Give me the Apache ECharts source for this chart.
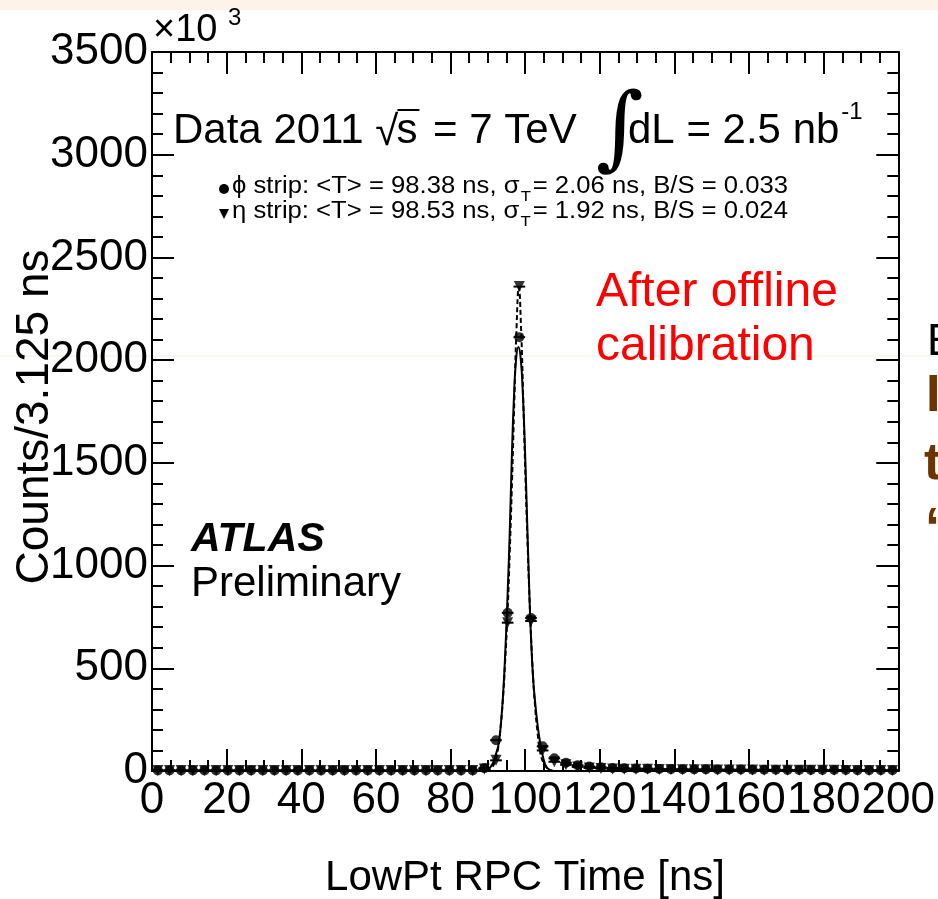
<!DOCTYPE html>
<html><head><meta charset="utf-8">
<script src="https://cdn.jsdelivr.net/npm/echarts@6/dist/echarts.min.js"></script>
<style>html,body{margin:0;padding:0;background:#fff;} #c{width:938px;height:899px;}</style>
</head><body><div id="c"></div>
<script>
// ---- data (counts in units of 10^3 per 3.125 ns bin) ----
const binWidth = 3.125;
const phiCounts = [3,3,3,3,3,3,3,3,3,3, 3,3,3,3,3,3,3,3,3,3, 3,3,3,3,3,3,3,3, 14,150,770,2112,745,120,62,40,28,22,18,15,13,12,11,10, 9,9,8,8,7,7,7,6,6,6,5,5,5,5,5,5,4,4,4,4];
const etaCounts = [2,2,2,2,2,2,2,2,2,2, 2,2,2,2,2,2,2,2,2,2, 2,2,2,2,2,2,2,2, 10,52,722,2358,730,100,45,30,20,15,12,10,9, 8,8,7,7,6,6,6,5,5,5,5,4,4,4,4,4,4,4,3,3,3,3,3];
const binCenters = phiCounts.map((_, i) => (i + 0.5) * binWidth);

// fit curves
const phiFitT = [88.5,90.2,91.4,92.3,92.9,93.5,94.1,94.7,95.3,95.9,96.4,97.0,97.6,98.2,98.8,99.4,100.0,100.5,101.0,101.5,102.1,102.7,103.3,104.0,104.9,105.9,107.5];
const phiFitV = [0,10,40,90,132,230,375,590,863,1180,1511,1820,2010,2064,2010,1830,1540,1240,940,680,460,330,230,140,60,15,0];
const etaFitT = [89.5,90.8,91.8,92.6,93.3,94.0,94.6,95.3,95.9,96.5,97.1,97.7,98.3,98.9,99.5,100.1,100.7,101.3,102.0,102.6,103.3,104.0,104.9,106.0,107.5];
const etaFitV = [0,12,40,95,190,340,520,780,1080,1420,1800,2160,2355,2160,1800,1420,1080,780,500,330,190,95,40,12,0];

const xMin = 0, xMax = 200, xStep = 20, xMinorStep = 5;
const yMin = 0, yMax = 3500, yStep = 500, yMinorStep = 100;

const legendLine1 = ['ϕ strip: <T> = 98.38 ns, σ', 'T', ' = 2.06 ns, B/S = 0.033'];
const legendLine2 = ['η strip: <T> = 98.53 ns, σ', 'T', ' = 1.92 ns, B/S = 0.024'];

// ---- chart ----
const FF = '"Liberation Sans", Arial, Helvetica, sans-serif';
const chart = echarts.init(document.getElementById('c'), null, {renderer: 'canvas'});
const zip = (a, b) => a.map((v, i) => [v, b[i]]);

function measure(text, size, weight) {
  const c = document.createElement('canvas').getContext('2d');
  c.font = (weight ? weight + ' ' : '') + size + 'px ' + FF;
  return c.measureText(text).width;
}
const LF = 23, LSUB = 15;
function legendGroup(parts, y, scale) {
  const w1 = measure(parts[0], LF);
  const wT = measure(parts[1], LSUB);
  return {
    type: 'group', x: 232, y: y, scaleX: scale,
    children: [
      {type: 'text', x: 0, y: 0, style: {text: parts[0], fontSize: LF, fontFamily: FF, fill: '#000', align: 'left', verticalAlign: 'middle'}},
      {type: 'text', x: w1 + 1, y: 10, style: {text: parts[1], fontSize: LSUB, fontFamily: FF, fill: '#000', align: 'left', verticalAlign: 'middle'}},
      {type: 'text', x: w1 + wT * 0.6, y: 0, style: {text: parts[2], fontSize: LF, fontFamily: FF, fill: '#000', align: 'left', verticalAlign: 'middle'}}
    ]
  };
}
const lw1 = measure(legendLine1[0], LF) + measure(legendLine1[1], LSUB) * 0.6 + measure(legendLine1[2], LF);
const lscale = 556 / lw1;

const tickStyle = {color: '#000', width: 2};
function mkAxis(kind, pos, min, max, step, tickLen, showLine, labels) {
  return {
    type: 'value', min: min, max: max, interval: step, position: pos, offset: 0,
    axisLine: {show: showLine, onZero: false, lineStyle: {color: '#000', width: 2}},
    splitLine: {show: false},
    minorTick: {show: false},
    axisTick: {show: true, inside: true, length: tickLen, lineStyle: tickStyle},
    axisLabel: labels ? Object.assign({show: true, fontSize: 44, fontFamily: FF, color: '#000', formatter: v => String(v)}, labels) : {show: false}
  };
}

function errRender(params, api) {
  const x = api.value(0), y = api.value(1);
  const p1 = api.coord([x - binWidth / 2, y]);
  const p2 = api.coord([x + binWidth / 2, y]);
  return {type: 'line', shape: {x1: p1[0], y1: p1[1], x2: p2[0], y2: p2[1]}, style: {stroke: '#000', lineWidth: 2}};
}

const T = (x, y, text, size, extra) => ({type: 'text', x: x, y: y,
  style: Object.assign({text: text, fontSize: size, fontFamily: FF, fill: '#000', align: 'left', verticalAlign: 'middle'}, extra || {})});

// header layout (sequential pieces)
const HF = 42;
const hx0 = 173;
const wData = measure('Data 2011 ', HF);
const rootX = hx0 + wData;
const sX = rootX + measure('√', HF) - 2;
const eqX = sX + measure('s', HF) + measure(' ', HF) + 4;

const option = {
  animation: false,
  backgroundColor: '#fff',
  grid: {left: 152, right: 38, top: 52, bottom: 128, show: false},
  xAxis: [
    mkAxis('x', 'bottom', xMin, xMax, xStep, 22, true, {margin: 8}),
    mkAxis('x', 'top', xMin, xMax, xStep, 22, true, null),
    mkAxis('x', 'bottom', xMin, xMax, xMinorStep, 11, false, null),
    mkAxis('x', 'top', xMin, xMax, xMinorStep, 11, false, null)
  ],
  yAxis: [
    mkAxis('y', 'left', yMin, yMax, yStep, 22, true, {margin: 4}),
    mkAxis('y', 'right', yMin, yMax, yStep, 22, true, null),
    mkAxis('y', 'left', yMin, yMax, yMinorStep, 11, false, null),
    mkAxis('y', 'right', yMin, yMax, yMinorStep, 11, false, null)
  ],
  series: [
    {type: 'line', data: zip(phiFitT, phiFitV), smooth: true, showSymbol: false, symbol: 'none',
     lineStyle: {color: '#000', width: 2, type: 'solid'}, z: 2},
    {type: 'line', data: zip(etaFitT, etaFitV), smooth: true, showSymbol: false, symbol: 'none',
     lineStyle: {color: '#000', width: 2, type: [5, 3]}, z: 2},
    {type: 'custom', renderItem: errRender, data: zip(binCenters, phiCounts), z: 3, clip: true},
    {type: 'custom', renderItem: errRender, data: zip(binCenters, etaCounts), z: 3, clip: true},
    {type: 'scatter', data: zip(binCenters, phiCounts), symbol: 'circle', symbolSize: 10,
     itemStyle: {color: '#000'}, z: 4},
    {type: 'scatter', data: zip(binCenters, etaCounts), symbol: 'triangle', symbolRotate: 180, symbolSize: 11,
     itemStyle: {color: '#000'}, z: 4}
  ],
  graphic: [
    {type: 'rect', shape: {x: 0, y: 0, width: 938, height: 10}, style: {fill: '#fdf3e8'}, z: -10},
    {type: 'line', shape: {x1: 0, y1: 356, x2: 938, y2: 356}, style: {stroke: '#f4efe5', lineWidth: 1}, z: -5},
    // x10^3
    T(153, 31, '×10', 38),
    T(228, 18, '3', 24),
    // axis titles
    T(525, 878, 'LowPt RPC Time [ns]', 42, {align: 'center'}),
    {type: 'text', x: 35, y: 417, rotation: Math.PI / 2,
     style: {text: 'Counts/3.125 ns', fontSize: 46, fontFamily: FF, fill: '#000', align: 'center', verticalAlign: 'middle'}},
    // header
    T(hx0, 131, 'Data 2011', HF),
    T(rootX, 133, '√', HF),
    {type: 'line', shape: {x1: sX + 1, y1: 110, x2: sX + measure('s', HF) + 2, y2: 110}, style: {stroke: '#000', lineWidth: 2}},
    T(sX, 131, 's', HF),
    T(eqX, 131, '= 7 TeV', HF),
    T(596, 134, '∫', 92, {fontFamily: '"DejaVu Serif", serif'}),
    T(628, 131, 'dL = 2.5 nb', HF),
    T(628 + measure('dL = 2.5 nb', HF) + 2, 112, '-1', 24),
    // legend
    {type: 'circle', shape: {cx: 224, cy: 189, r: 5}, style: {fill: '#000'}},
    {type: 'polygon', shape: {points: [[219, 209], [229, 209], [224, 219]]}, style: {fill: '#000'}},
    legendGroup(legendLine1, 187, lscale),
    legendGroup(legendLine2, 212, lscale),
    // red note
    T(596, 293, 'After offline', 48, {fill: '#ff0000'}),
    T(596, 347, 'calibration', 48, {fill: '#ff0000'}),
    // ATLAS
    T(191, 540, 'ATLAS', 41, {fontWeight: 'bold', fontStyle: 'italic'}),
    T(191, 584, 'Preliminary', 42),
    // clipped slide text on the right
    T(927, 343, 'E', 44),
    T(926, 397, 'I', 52, {fontWeight: 'bold', fill: '#6e3300'}),
    T(924, 465, 't', 52, {fontWeight: 'bold', fill: '#6e3300'}),
    T(925, 530, '“', 52, {fontWeight: 'bold', fill: '#6e3300'})
  ]
};
chart.setOption(option);
</script>
</body></html>
